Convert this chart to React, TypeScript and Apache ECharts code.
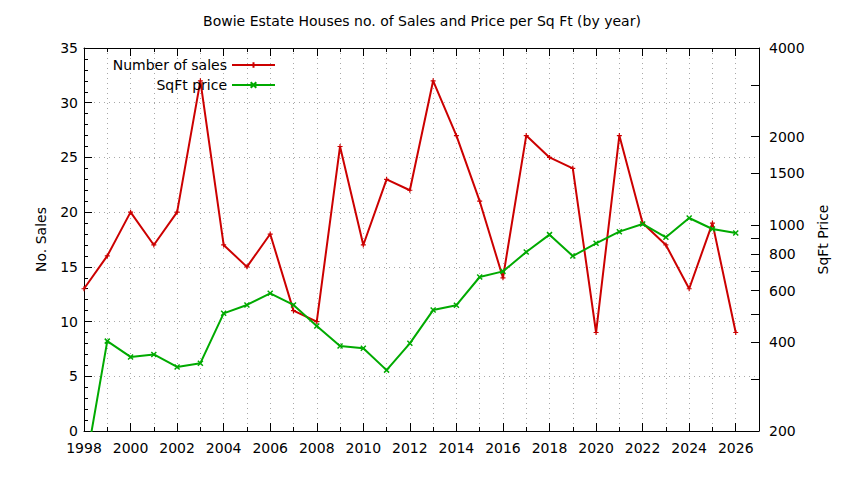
import React, { useEffect, useRef } from "react";
import * as echarts from "echarts";

const years = [1998, 1999, 2000, 2001, 2002, 2003, 2004, 2005, 2006, 2007, 2008, 2009, 2010, 2011, 2012, 2013, 2014, 2015, 2016, 2017, 2018, 2019, 2020, 2021, 2022, 2023, 2024, 2025, 2026];
const salesCount = [13, 16, 20, 17, 20, 32, 17, 15, 18, 11, 10, 26, 17, 23, 22, 32, 27, 21, 14, 27, 25, 24, 9, 27, 19, 17, 13, 19, 9];
const sqftPrice = [142, 404, 357, 364, 330, 340, 502, 536, 587, 536, 455, 389, 382, 322, 397, 515, 535, 667, 697, 811, 929, 786, 868, 951, 1010, 910, 1058, 971, 941];
const priceLabelValues = [200, 400, 600, 800, 1000, 1500, 2000, 4000];
const priceTickValues = [200, 300, 400, 500, 600, 700, 800, 900, 1000, 1500, 2000, 3000, 4000];
const titleText = "Bowie Estate Houses no. of Sales and Price per Sq Ft (by year)";

const FONT = "DejaVu Sans";
const RED = "#cc0000";
const GREEN = "#00aa00";

export default function App() {
  const ref = useRef<HTMLDivElement>(null);
  useEffect(() => {
    if (!ref.current) return;
    const chart = echarts.init(ref.current, undefined, { renderer: "svg" });
    const lg = (v: number) => Math.log10(v);
    const gridLine = { show: true, lineStyle: { color: "#a8a8a8", type: [1, 4] as any, width: 1 } };
    const baseX = {
      type: "value" as const,
      min: 1998,
      max: 2027,
      interval: 2,
      axisLine: { show: true, lineStyle: { color: "#000", width: 1 } },
      axisTick: { show: true, inside: true, length: 8, lineStyle: { color: "#000" } },
      minorTick: { show: true, splitNumber: 2, length: 4, lineStyle: { color: "#000" } },
    };
    const legendBase = {
      right: 563,
      align: "right" as const,
      itemWidth: 43,
      itemHeight: 7,
      itemGap: 4,
      textStyle: { fontFamily: FONT, fontSize: 14, color: "#000" },
    };
    chart.setOption({
      animation: false,
      backgroundColor: "#fff",
      title: {
        text: titleText,
        left: "center",
        top: 9,
        textStyle: { fontFamily: FONT, fontSize: 14, fontWeight: "normal", color: "#000" },
      },
      legend: [
        { ...legendBase, data: [{ name: "Number of sales" }], top: 53 },
        { ...legendBase, data: [{ name: "SqFt price" }], top: 73 },
      ],
      grid: { left: 84, right: 85, top: 48, bottom: 49, containLabel: false },
      xAxis: [
        {
          ...baseX,
          position: "bottom",
          axisLabel: { show: true, showMaxLabel: false, fontFamily: FONT, fontSize: 14, color: "#000", margin: 10, formatter: (v: number) => String(v) },
          splitLine: gridLine,
          minorSplitLine: gridLine,
        },
        {
          ...baseX,
          position: "top",
          axisLabel: { show: false },
          splitLine: { show: false },
        },
      ],
      yAxis: [
        {
          type: "value",
          min: 0,
          max: 35,
          interval: 5,
          position: "left",
          name: "No. Sales",
          nameLocation: "middle",
          nameGap: 36,
          nameRotate: 90,
          nameTextStyle: { fontFamily: FONT, fontSize: 14, color: "#000" },
          axisLine: { show: true, lineStyle: { color: "#000" } },
          axisTick: { show: true, inside: true, length: 8, lineStyle: { color: "#000" } },
          minorTick: { show: true, splitNumber: 5, length: 4, lineStyle: { color: "#000" } },
          axisLabel: { fontFamily: FONT, fontSize: 14, color: "#000", margin: 6 },
          splitLine: gridLine,
        },
        {
          type: "value",
          min: lg(200),
          max: lg(4000),
          position: "right",
          name: "SqFt Price",
          nameLocation: "middle",
          nameGap: 57,
          nameRotate: 90,
          nameTextStyle: { fontFamily: FONT, fontSize: 14, color: "#000" },
          axisLine: { show: true, lineStyle: { color: "#000" } },
          axisTick: { show: true, inside: true, length: 8, customValues: priceTickValues.map(lg), lineStyle: { color: "#000" } },
          axisLabel: {
            fontFamily: FONT,
            fontSize: 14,
            color: "#000",
            margin: 10,
            customValues: priceLabelValues.map(lg),
            formatter: (v: number) => String(Math.round(Math.pow(10, v))),
          },
          splitLine: { show: false },
        },
      ],
      series: [
        {
          name: "Number of sales",
          type: "line",
          xAxisIndex: 0,
          yAxisIndex: 0,
          data: years.map((y, i) => [y, salesCount[i]]),
          symbol: "path://M5,0L5,10M0,5L10,5",
          symbolSize: 5,
          lineStyle: { color: RED, width: 2 },
          itemStyle: { color: RED, borderColor: RED, borderWidth: 1.2 },
          clip: true,
        },
        {
          name: "SqFt price",
          type: "line",
          xAxisIndex: 0,
          yAxisIndex: 1,
          data: years.map((y, i) => [y, lg(sqftPrice[i])]),
          symbol: "path://M0,0L10,10M10,0L0,10",
          symbolSize: 5,
          lineStyle: { color: GREEN, width: 2 },
          itemStyle: { color: GREEN, borderColor: GREEN, borderWidth: 1.5 },
          clip: true,
        },
      ],
    });
    return () => chart.dispose();
  }, []);
  return <div ref={ref} style={{ width: 844, height: 480, position: "absolute", left: 0, top: 0 }} />;
}
